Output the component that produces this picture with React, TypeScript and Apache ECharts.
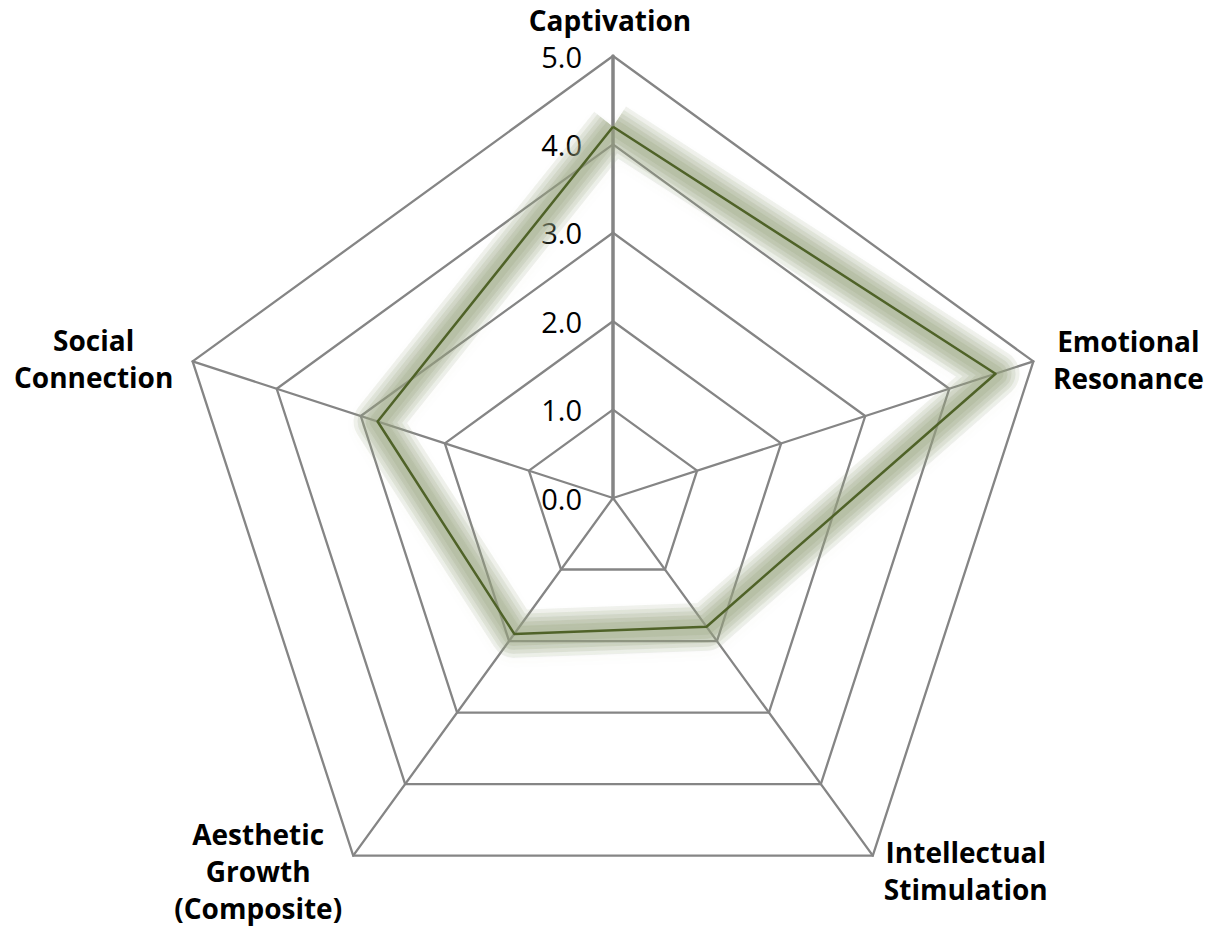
import React, { useEffect, useRef } from 'react';
import * as echarts from 'echarts';

// ---- data ----
const categories = [
  'Captivation',
  'Emotional Resonance',
  'Intellectual Stimulation',
  'Aesthetic Growth (Composite)',
  'Social Connection',
];
const categoryLines = [
  ['Captivation'],
  ['Emotional', 'Resonance'],
  ['Intellectual', 'Stimulation'],
  ['Aesthetic', 'Growth', '(Composite)'],
  ['Social', 'Connection'],
];
const scores = [4.2, 4.55, 1.8, 1.9, 2.8];
const axisMin = 0;
const axisMax = 5;
const splitCount = 5;

// ---- layout ----
const W = 1209;
const H = 926;
const CX = 613;
const CY = 498;
const R = 442;
const labelOffsets = [
  [-3, -36],
  [95, -2],
  [93, 15],
  [-95, 15],
  [-99, -3],
];
const GRID = '#858585';
const LINE = '#4f6228';
// glow layers: [width, alpha, blur]
const glowLayers = [
  [48, 0.14, 10],
  [40, 0.16, 8],
  [32, 0.18, 6],
  [24, 0.2, 5],
  [16, 0.2, 4],
];

export default function App() {
  const ref = useRef<HTMLDivElement>(null);

  useEffect(() => {
    document.body.style.margin = '0';
    if (!ref.current) return;
    const chart = echarts.init(ref.current, undefined, { renderer: 'svg' });

    // ECharts places radar indicators counter-clockwise; reorder to go clockwise
    const order = categories.map((_, i) => (i === 0 ? 0 : categories.length - i));

    const indicator = order.map((idx, k) => ({
      name: categories[idx],
      min: axisMin,
      max: axisMax,
      axisLabel: { show: k === 0 },
      axisLine: { lineStyle: { width: k === 0 ? 3.5 : 2.3 } },
    }));

    const graphic = categories.map((_, i) => {
      const a = Math.PI / 2 - (i * 2 * Math.PI) / categories.length;
      const vx = CX + R * Math.cos(a);
      const vy = CY - R * Math.sin(a);
      return {
        type: 'text',
        x: vx + labelOffsets[i][0],
        y: vy + labelOffsets[i][1],
        silent: true,
        style: {
          text: categoryLines[i].join('\n'),
          align: 'center',
          verticalAlign: 'middle',
          fontFamily: '"Open Sans", sans-serif',
          fontWeight: 'bold',
          fontSize: 28,
          lineHeight: 37,
          fill: '#000',
        },
      };
    });

    const values = order.map((idx) => scores[idx]);

    const glowSeries = glowLayers.map(([w, a, b], i) => ({
      type: 'radar',
      symbol: 'none',
      silent: true,
      z: 1,
      data: [{ value: values, name: 'Glow' + i }],
      lineStyle: {
        color: `rgba(150,162,125,${a})`,
        width: w,
        join: 'round',
        shadowBlur: b,
        shadowColor: `rgba(150,162,125,${a})`,
        shadowOffsetY: 4,
      },
    }));

    chart.setOption({
      animation: false,
      backgroundColor: '#fff',
      radar: {
        center: [CX, CY],
        radius: R,
        startAngle: 90,
        shape: 'polygon',
        splitNumber: splitCount,
        indicator,
        axisName: { show: false },
        axisLine: { lineStyle: { color: GRID, width: 2.3 } },
        splitLine: { lineStyle: { color: GRID, width: 2.3 } },
        splitArea: { show: false },
        axisTick: { show: false },
        axisLabel: {
          show: false,
          color: '#000',
          fontFamily: '"Open Sans", sans-serif',
          fontSize: 29,
          margin: 31,
          padding: [8, 0, 0, 0],
          formatter: (v: number) => Number(v).toFixed(1),
        },
      },
      graphic,
      series: [
        ...glowSeries,
        {
          type: 'radar',
          symbol: 'none',
          z: 2,
          data: [{ value: values, name: 'Score' }],
          lineStyle: {
            color: LINE,
            width: 2.5,
          },
        },
      ],
    });

    return () => chart.dispose();
  }, []);

  return <div ref={ref} style={{ width: W, height: H }} />;
}
